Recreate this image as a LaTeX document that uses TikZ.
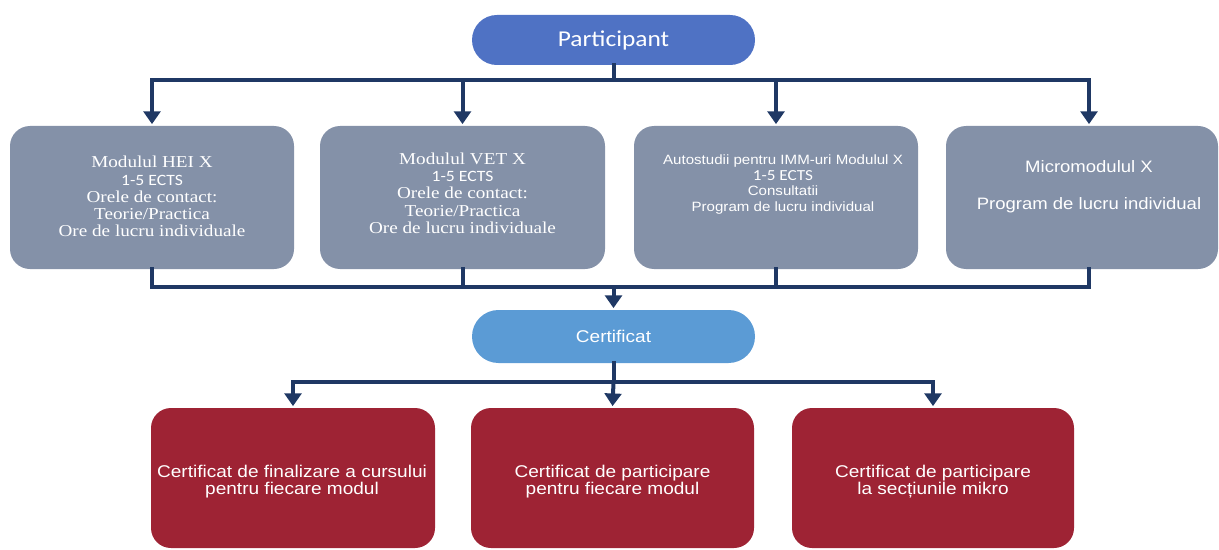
\documentclass[tikz,border=0pt]{standalone}
\usepackage{fontspec}
\setmainfont{Liberation Sans}
\newfontfamily\arialx[FakeStretch=1.12]{Liberation Sans}
\newfontfamily\timesx[FakeStretch=1.15]{Liberation Serif}
\newfontfamily\calx[FakeStretch=1.12]{Carlito}
\usetikzlibrary{arrows.meta}
\definecolor{pblue}{HTML}{4F72C4}
\definecolor{cblue}{HTML}{5B9BD5}
\definecolor{boxgray}{HTML}{8491A8}
\definecolor{boxred}{HTML}{9E2334}
\definecolor{lineblue}{HTML}{1F3864}
\tikzset{
  conn/.style={draw=lineblue, line width=3pt, line cap=rect},
  arr/.style={draw=lineblue, line width=3pt, -{Triangle[width=12.5pt,length=9.5pt]}, shorten >=1.2pt},
  pill/.style={rectangle, inner sep=0pt, text=white, minimum width=212.25pt},
  graybox/.style={rectangle, fill=boxgray, rounded corners=15pt, inner sep=0pt, minimum height=107.25pt},
  redbox/.style={rectangle, fill=boxred, rounded corners=15pt, inner sep=0pt, minimum height=105pt},
  txt/.style={inner sep=0pt, text=white, align=center},
}
\begin{document}
\begin{tikzpicture}[x=0.75pt,y=-0.75pt]
\useasboundingbox (0,0) rectangle (1219,549);
% top pill
\node[pill, fill=pblue, minimum height=37.5pt, rounded corners=18.7pt, font=\calx\fontsize{17}{18}\selectfont] (P) at (613.5,40) {\raisebox{-2.2pt}{Participant}};
% gray boxes
\node[graybox, minimum width=213pt] (M1) at (152,197.5) {};
\node[graybox, minimum width=213.75pt] (M2) at (462.5,197.5) {};
\node[graybox, minimum width=213pt] (M3) at (776,197.5) {};
\node[graybox, minimum width=204pt] (M4) at (1082,197.5) {};
% certificate pill
\node[pill, fill=cblue, minimum height=39.75pt, rounded corners=19.8pt, font=\arialx\fontsize{12.75}{14}\selectfont] (C) at (613.5,336.5) {Certificat};
% red boxes
\node[redbox, minimum width=213pt] (R1) at (293,478) {};
\node[redbox, minimum width=212.25pt] (R2) at (612.5,478) {};
\node[redbox, minimum width=211.5pt] (R3) at (933,478) {};
% texts
\node[txt, font=\timesx\fontsize{12.5}{12.9}\selectfont] (T1) at (152,196.5)
  {Modulul HEI X\\{\calx\fontsize{11.8}{12.9}\selectfont 1-5 ECTS}\\Orele de contact:\\Teorie/Practica\\Ore de lucru individuale};
\node[txt, font=\timesx\fontsize{12.5}{12.9}\selectfont] (T2) at (462.5,193.2)
  {Modulul VET X\\{\calx\fontsize{11.8}{12.9}\selectfont 1-5 ECTS}\\Orele de contact:\\Teorie/Practica\\Ore de lucru individuale};
\node[txt, font=\arialx\fontsize{10.1}{11.6}\selectfont] (T3) at (783,184.7)
  {Autostudii pentru IMM-uri Modulul X\\{\calx\fontsize{11.5}{11.6}\selectfont 1-5 ECTS}\\Consultatii\\Program de lucru individual};
\node[txt, font=\arialx\fontsize{12.4}{27.75}\selectfont] (T4) at (1089,187.2)
  {Micromodulul X\\Program de lucru individual};
\node[txt, font=\arialx\fontsize{12.75}{12.75}\selectfont] (U1) at (292,481.2)
  {Certificat de finalizare a cursului\\pentru fiecare modul};
\node[txt, font=\arialx\fontsize{12.75}{12.75}\selectfont] (U2) at (612.5,481.2)
  {Certificat de participare\\pentru fiecare modul};
\node[txt, font=\arialx\fontsize{12.75}{12.75}\selectfont] (U3) at (933,481.2)
  {Certificat de participare\\la secțiunile mikro};
% connectors top
\coordinate (b1) at (613.5,80);
\coordinate (a4) at ([xshift=5.25pt]M4.north);
\coordinate (d4) at ([xshift=5.25pt]M4.south);
\draw[conn] (P.south) -- (b1);
\draw[conn] (M1.north |- b1) -- (a4 |- b1);
\draw[arr] (M1.north |- b1) -- (M1.north);
\draw[arr] (M2.north |- b1) -- (M2.north);
\draw[arr] (M3.north |- b1) -- (M3.north);
\draw[arr] (a4 |- b1) -- (a4);
% connectors middle
\coordinate (b2) at (613.5,287);
\draw[conn] (M1.south) -- (M1.south |- b2) -- (d4 |- b2) -- (d4);
\draw[conn] (M2.south) -- (M2.south |- b2);
\draw[conn] (M3.south) -- (M3.south |- b2);
\draw[arr] (b2) -- (C.north);
% connectors bottom
\coordinate (b3) at (613.5,382);
\draw[conn] (C.south) -- (b3);
\draw[conn] (R1.north |- b3) -- (R3.north |- b3);
\draw[arr] (R1.north |- b3) -- (R1.north);
\draw[arr] (b3) -- (R2.north);
\draw[arr] (R3.north |- b3) -- (R3.north);
\end{tikzpicture}
\end{document}
